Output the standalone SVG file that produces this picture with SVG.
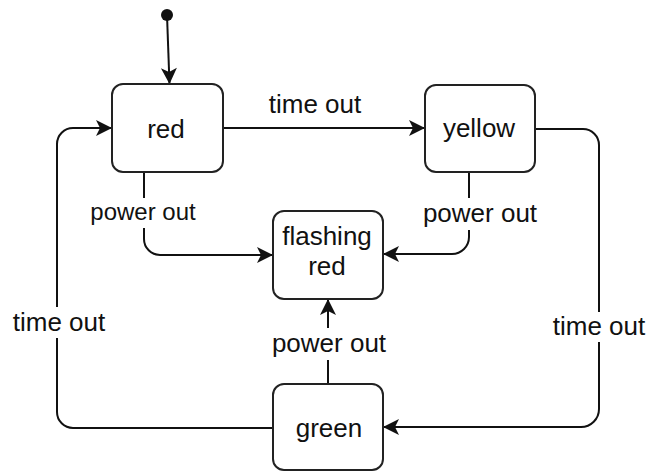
<svg xmlns="http://www.w3.org/2000/svg" width="647" height="472" viewBox="0 0 647 472">
  <style>
    .node rect { fill: #ffffff; stroke: #222222; stroke-width: 2; }
    .node text { font-family: "Liberation Sans", Arial, Helvetica, sans-serif; font-size: 26px; fill: #111111; text-anchor: middle; }
    .edge { fill: none; stroke: #111111; stroke-width: 2; }
    .arrow { marker-end: url(#head); }
    .label { font-family: "Liberation Sans", Arial, Helvetica, sans-serif; font-size: 26px; fill: #111111; text-anchor: middle; }
    .label.small { font-size: 24px; }
    .lbg { fill: #ffffff; stroke: none; }
  </style>
  <defs>
    <marker id="head" markerUnits="userSpaceOnUse" viewBox="-18 -9 19 18" markerWidth="19" markerHeight="18" refX="0" refY="0" orient="auto">
      <path d="M0,0 L-16,-8 L-12,0 L-16,8 Z" fill="#111111"/>
    </marker>
  </defs>

  <rect width="647" height="472" fill="#ffffff"/>

  <!-- transitions -->
  <g id="connectors">
    <!-- initial pseudo-state into red -->
    <circle cx="167" cy="15" r="6" fill="#111111"/>
    <path class="edge arrow" d="M167,15 L169.5,84"/>

    <!-- red -> yellow -->
    <path class="edge arrow" d="M223,128 H425"/>
    <text class="label" x="315" y="113">time out</text>

    <!-- yellow -> green -->
    <path class="edge arrow" d="M535,129 H583 A16,16 0 0 1 599,145 V409 A18,18 0 0 1 581,427 H383"/>
    <rect class="lbg" x="552" y="312" width="94" height="30"/>
    <text class="label" x="599" y="335">time out</text>

    <!-- green -> red -->
    <path class="edge arrow" d="M273,428 H73 A16,16 0 0 1 57,412 V144 A16,16 0 0 1 73,128 H112"/>
    <rect class="lbg" x="10" y="307" width="96" height="31"/>
    <text class="label" x="59" y="331">time out</text>

    <!-- red -> flashing red -->
    <path class="edge arrow" d="M144,172 V239 A16,16 0 0 0 160,255 H273"/>
    <rect class="lbg" x="88" y="198" width="110" height="30"/>
    <text class="label small" x="143" y="220">power out</text>

    <!-- yellow -> flashing red -->
    <path class="edge arrow" d="M469,172 V237 A17,17 0 0 1 452,254 H383"/>
    <rect class="lbg" x="421" y="198" width="117" height="32"/>
    <text class="label" x="480" y="222">power out</text>

    <!-- green -> flashing red -->
    <path class="edge arrow" d="M328,384 V299"/>
    <rect class="lbg" x="271" y="328" width="116" height="32"/>
    <text class="label" x="329" y="352">power out</text>
  </g>

  <!-- states -->
  <g id="red" class="node">
    <rect x="112" y="84" width="111" height="88" rx="11" ry="11"/>
    <text x="166" y="138">red</text>
  </g>
  <g id="yellow" class="node">
    <rect x="425" y="85" width="110" height="87" rx="11" ry="11"/>
    <text x="479" y="137">yellow</text>
  </g>
  <g id="flashing-red" class="node">
    <rect x="273" y="211" width="110" height="88" rx="11" ry="11"/>
    <text x="327" y="245">flashing</text>
    <text x="327" y="275">red</text>
  </g>
  <g id="green" class="node">
    <rect x="273" y="384" width="110" height="86" rx="11" ry="11"/>
    <text x="329" y="437">green</text>
  </g>
</svg>
